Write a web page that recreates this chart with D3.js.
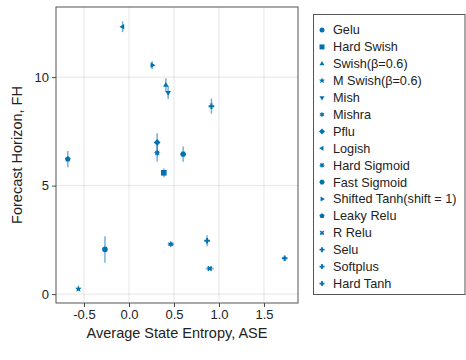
<!DOCTYPE html>
<html>
<head>
<meta charset="utf-8">
<script src="https://cdn.jsdelivr.net/npm/d3@7"></script>
<style>
  body { margin:0; background:#fff; }
  svg { font-family:"Liberation Sans", Arial, sans-serif; }
</style>
</head>
<body>
<svg id="chart" width="466" height="360"></svg>
<script>
// activation functions, in legend order
var names = ['Gelu', 'Hard Swish', 'Swish(β=0.6)', 'M Swish(β=0.6)', 'Mish', 'Mishra', 'Pflu', 'Logish',
  'Hard Sigmoid', 'Fast Sigmoid', 'Shifted Tanh(shift = 1)', 'Leaky Relu', 'R Relu', 'Selu', 'Softplus', 'Hard Tanh']
var markers = ['circle', 'rect', 'utri', 'star5', 'dtri', 'star6', 'diamond', 'ltri',
  'star8', 'hexagon', 'rtri', 'pentagon', 'xcross', 'cross', 'cross', 'cross']
var ase    = [-0.267, 0.387, 0.41, -0.562, 0.435, 0.465, 0.313, -0.071, 0.313, 0.602, 0.258, -0.68, 0.897, 0.868, 0.916, 1.73]
var aseErr = [0.01, 0.02, 0.01, 0.02, 0.01, 0.035, 0.02, 0.01, 0.01, 0.01, 0.02, 0.01, 0.045, 0.01, 0.01, 0.01]
var fh     = [2.06, 5.59, 9.63, 0.24, 9.29, 2.30, 6.99, 12.32, 6.51, 6.45, 10.55, 6.22, 1.18, 2.46, 8.66, 1.65]
var fhErr  = [0.61, 0.2, 0.32, 0.05, 0.3, 0.1, 0.42, 0.25, 0.4, 0.35, 0.18, 0.37, 0.04, 0.25, 0.35, 0.05]
var xTicks = [-0.5, 0.0, 0.5, 1.0, 1.5]
var yTicks = [0, 5, 10]

var color = '#0072b2'
  , plot = { left:56, right:298, top:7, bottom:303 }
  , svg = d3.select('#chart')

var x = d3.scaleLinear().domain([-0.811, 1.878]).range([plot.left, plot.right])
var y = d3.scaleLinear().domain([-0.41, 13.23]).range([plot.bottom, plot.top])

// marker paths, r is roughly the half size
function markerPath(kind, r) {
  function poly(n, rad, rot) {
    var pts = d3.range(n).map(function(i) {
      var a = rot + i * 2 * Math.PI / n
      return [rad * Math.cos(a), rad * Math.sin(a)]
    })
    return 'M' + pts.join('L') + 'Z'
  }
  function star(n, ro, ri) {
    var pts = d3.range(2 * n).map(function(i) {
      var a = -Math.PI / 2 + i * Math.PI / n, rad = i % 2 ? ri : ro
      return [rad * Math.cos(a), rad * Math.sin(a)]
    })
    return 'M' + pts.join('L') + 'Z'
  }
  var t = r * 0.35
  switch (kind) {
    case 'circle': return d3.symbol(d3.symbolCircle, Math.PI * r * r)()
    case 'rect': return 'M' + -r + ',' + -r + 'H' + r + 'V' + r + 'H' + -r + 'Z'
    case 'utri': return poly(3, r * 1.15, -Math.PI / 2)
    case 'dtri': return poly(3, r * 1.15, Math.PI / 2)
    case 'ltri': return poly(3, r * 1.15, Math.PI)
    case 'rtri': return poly(3, r * 1.15, 0)
    case 'diamond': return poly(4, r * 1.2, 0)
    case 'pentagon': return poly(5, r * 1.1, -Math.PI / 2)
    case 'hexagon': return poly(6, r * 1.1, 0)
    case 'star5': return star(5, r * 1.3, r * 0.55)
    case 'star6': return star(6, r * 1.2, r * 0.6)
    case 'star8': return star(8, r * 1.2, r * 0.65)
    case 'cross':
      return 'M' + -t + ',' + -r + 'H' + t + 'V' + -t + 'H' + r + 'V' + t + 'H' + t + 'V' + r + 'H' + -t + 'V' + t + 'H' + -r + 'V' + -t + 'H' + -t + 'Z'
    case 'xcross':
      return d3.symbol(d3.symbolCross, r * r * 2.2)().replace(/(-?[\d.]+),(-?[\d.]+)/g, function(m, a, b) {
        a = +a; b = +b
        return ((a - b) * Math.SQRT1_2).toFixed(2) + ',' + ((a + b) * Math.SQRT1_2).toFixed(2)
      })
  }
}

// grid
svg.append('g').selectAll('line.gx').data(xTicks).enter().append('line')
  .attr('x1', function(d) { return x(d) }).attr('x2', function(d) { return x(d) })
  .attr('y1', plot.top).attr('y2', plot.bottom)
  .attr('stroke', '#000').attr('stroke-opacity', 0.1).attr('stroke-width', 1)
svg.append('g').selectAll('line.gy').data(yTicks).enter().append('line')
  .attr('y1', function(d) { return y(d) }).attr('y2', function(d) { return y(d) })
  .attr('x1', plot.left).attr('x2', plot.right)
  .attr('stroke', '#000').attr('stroke-opacity', 0.1).attr('stroke-width', 1)

// axes
var xAxis = svg.append('g')
  .attr('transform', 'translate(0,' + plot.bottom + ')')
  .call(d3.axisBottom(x).tickValues(xTicks).tickSize(4).tickPadding(3).tickFormat(d3.format('.1f')))
var yAxis = svg.append('g')
  .attr('transform', 'translate(' + plot.left + ',0)')
  .call(d3.axisLeft(y).tickValues(yTicks).tickSize(4).tickPadding(3).tickFormat(d3.format('d')))
;[xAxis, yAxis].forEach(function(ax) {
  ax.select('.domain').remove()
  ax.selectAll('.tick line').attr('stroke', '#444')
  ax.selectAll('.tick text').attr('font-size', 13).attr('fill', '#222')
    .attr('font-family', '"Liberation Sans", Arial, sans-serif')
})
xAxis.selectAll('.tick text').text(function(d) { return d3.format('.1f')(d).replace('−', '-') })

// frame
svg.append('rect')
  .attr('x', plot.left).attr('y', plot.top)
  .attr('width', plot.right - plot.left).attr('height', plot.bottom - plot.top)
  .attr('fill', 'none').attr('stroke', '#555').attr('stroke-width', 1)

// axis labels
svg.append('text')
  .attr('x', (plot.left + plot.right) / 2).attr('y', 338)
  .attr('text-anchor', 'middle').attr('font-size', 14.5).attr('fill', '#222')
  .text('Average State Entropy, ASE')
svg.append('text')
  .attr('transform', 'translate(22,' + (plot.top + plot.bottom) / 2 + ') rotate(-90)')
  .attr('text-anchor', 'middle').attr('font-size', 14.5).attr('fill', '#222')
  .text('Forecast Horizon, FH')

// error bars then markers
var idx = d3.range(names.length)
var bars = svg.append('g').attr('stroke', color).attr('stroke-opacity', 0.55).attr('stroke-width', 1.5)
bars.selectAll('line.ey').data(idx).enter().append('line')
  .attr('x1', function(i) { return x(ase[i]) }).attr('x2', function(i) { return x(ase[i]) })
  .attr('y1', function(i) { return y(fh[i] - fhErr[i]) }).attr('y2', function(i) { return y(fh[i] + fhErr[i]) })
bars.selectAll('line.ex').data(idx).enter().append('line')
  .attr('y1', function(i) { return y(fh[i]) }).attr('y2', function(i) { return y(fh[i]) })
  .attr('x1', function(i) { return x(ase[i] - aseErr[i]) }).attr('x2', function(i) { return x(ase[i] + aseErr[i]) })

svg.append('g').selectAll('path').data(idx).enter().append('path')
  .attr('transform', function(i) { return 'translate(' + x(ase[i]) + ',' + y(fh[i]) + ')' })
  .attr('d', function(i) { return markerPath(markers[i], 2.8) })
  .attr('fill', color)

// legend
var leg = { left:313, top:14, right:465.5, bottom:294, rowH:16.9, first:30 }
svg.append('rect')
  .attr('x', leg.left + 0.5).attr('y', leg.top + 0.5)
  .attr('width', leg.right - leg.left - 1).attr('height', leg.bottom - leg.top)
  .attr('fill', '#fff').attr('stroke', '#555').attr('stroke-width', 1)
var rows = svg.append('g').selectAll('g').data(idx).enter().append('g')
  .attr('transform', function(i) { return 'translate(' + (leg.left + 9) + ',' + (leg.first + i * leg.rowH) + ')' })
rows.append('path')
  .attr('d', function(i) { return markerPath(markers[i], 2.5) })
  .attr('fill', color)
rows.append('text')
  .attr('x', 11).attr('dy', '0.35em')
  .attr('font-size', 12.7).attr('fill', '#222')
  .text(function(i) { return names[i] })
</script>
</body>
</html>
